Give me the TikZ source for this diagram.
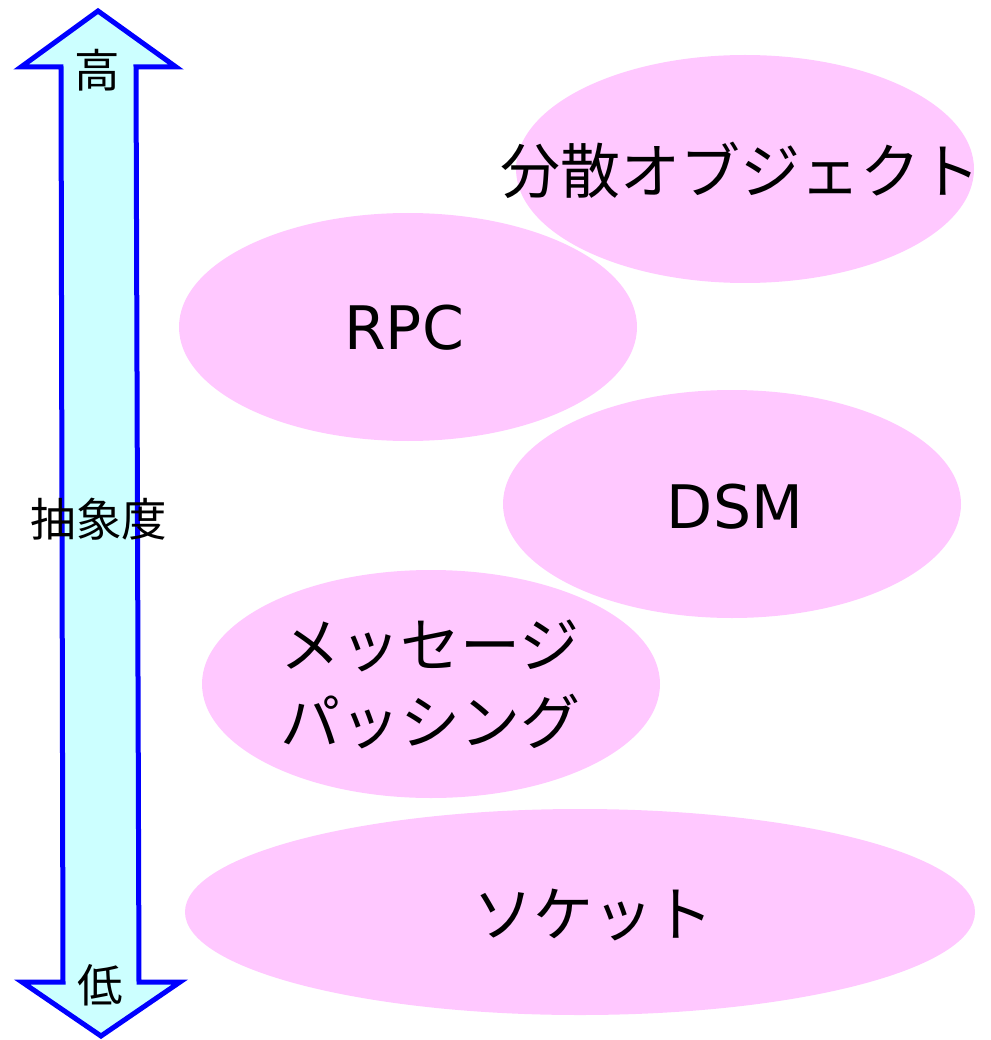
\documentclass[tikz,border=0pt]{standalone}
\usepackage{fontspec}
\setmainfont{DejaVu Sans}
\newfontfamily\jpfont{Noto Sans CJK JP}
\usetikzlibrary{shapes.geometric}
\definecolor{blobpink}{RGB}{255,200,255}
\definecolor{arrowfill}{RGB}{204,255,255}
\definecolor{arrowblue}{RGB}{0,0,255}
\begin{document}
\begin{tikzpicture}[x=1pt,y=-1pt,
  blob/.style={ellipse,fill=blobpink,inner sep=0pt},
  big/.style={font=\fontsize{60}{77}\selectfont,inner sep=0pt,align=center},
  side/.style={font=\fontsize{45.5}{50}\selectfont\jpfont,inner sep=0pt}]
\useasboundingbox (0,0) rectangle (990,1040);
% ellipses
\node[blob,minimum width=458pt,minimum height=228pt] (obj) at (745,169) {};
\node[blob,minimum width=458pt,minimum height=228pt] (rpc) at (408,327) {};
\node[blob,minimum width=458pt,minimum height=228pt] (dsm) at (732,504) {};
\node[blob,minimum width=458pt,minimum height=228pt] (msg) at (431,684) {};
\node[blob,minimum width=790pt,minimum height=206pt] (sock) at (580,912) {};
% labels
\node[big] (tobj) at (740,170) {\jpfont 分散オブジェクト};
\node[big] (trpc) at (404,328) {RPC};
\node[big] (tdsm) at (735,507) {DSM};
\node[big] (tmsg) at (430,684) {\jpfont メッセージ\\\jpfont パッシング};
\node[big] (tsock) at (593,915) {\jpfont ソケット};
% abstraction arrow
\draw[arrowblue,fill=arrowfill,line width=5pt,line join=miter]
  (98,11) -- (176,67) -- (136,67) -- (139,982) -- (180,982) -- (101,1036)
  -- (22,982) -- (63,982) -- (61,67) -- (21,67) -- cycle;
\node[side] (high) at (97,70) {高};
\node[side] (abs) at (99,519) {抽象度};
\node[side] (low) at (100,985) {低};
\end{tikzpicture}
\end{document}
